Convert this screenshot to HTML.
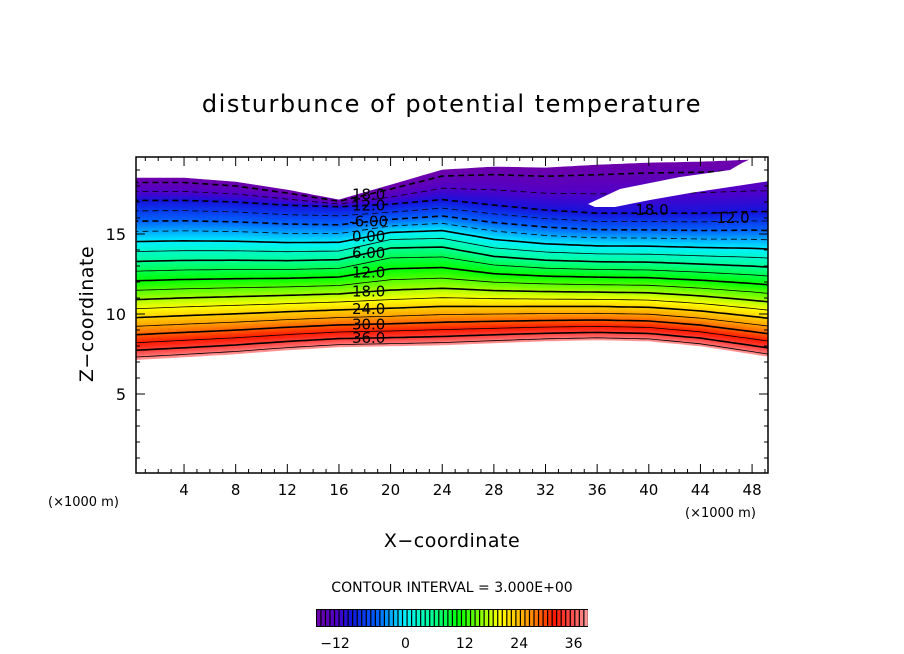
<!DOCTYPE html>
<html><head><meta charset="utf-8">
<style>
body{margin:0;background:#fff;}
svg{display:block;font-family:"DejaVu Sans","Liberation Sans",sans-serif;}
</style></head>
<body>
<svg id="chart" width="904" height="654" viewBox="0 0 904 654" xmlns="http://www.w3.org/2000/svg">
<defs><clipPath id="plotclip"><rect x="136" y="157" width="632" height="316"/></clipPath></defs>
<rect width="904" height="654" fill="#fff"/>
<text x="452" y="112" text-anchor="middle" font-size="24" letter-spacing="1.5">disturbunce of potential temperature</text>
<g id="fills" clip-path="url(#plotclip)"></g>
<g id="lines" clip-path="url(#plotclip)"></g>
<g id="hole" clip-path="url(#plotclip)"></g>
<g id="labels" font-size="15"></g>
<g id="axes"></g>
<text transform="translate(93,314) rotate(-90)" text-anchor="middle" font-size="19" letter-spacing="0.5">Z−coordinate</text>
<text x="452" y="547" text-anchor="middle" font-size="19" letter-spacing="0.5">X−coordinate</text>
<text x="48" y="506" font-size="13">(×1000 m)</text>
<text x="685" y="517" font-size="13">(×1000 m)</text>
<text x="452" y="592" text-anchor="middle" font-size="14">CONTOUR INTERVAL = 3.000E+00</text>
<g id="cbar"></g>
</svg>
<script>
// data
const xs     = [0,4,8,12,16,20,24,28,32,36,40,44,48,50];
const zBot   = [7.13,7.31,7.5,7.75,7.94,8.0,8.06,8.19,8.31,8.38,8.31,8.0,7.5,7.25];
const zMid12 = [17.1,17.1,17.0,16.8,16.7,16.8,17.1,16.8,16.5,16.3,16.3,16.3,16.4,16.4];
const zTop   = [18.5,18.5,18.25,17.75,17.13,18.06,19.0,19.19,19.13,19.31,19.44,19.5,19.63,19.63];
const bump   = [0,0,0,0,0.05,0.7,0.55,0.1,0,0,0,0,0,0];
const lineLevels = [-18,-15,-12,-9,-6,-3,0,3,6,9,12,15,18,21,24,27,30,33,36,39];
const labelTexts = [["18.0",-18],["12.0",-12],["-6.00",-6],["0.00",0],["6.00",6],["12.0",12],["18.0",18],["24.0",24],["30.0",30],["36.0",36]];
const xTicks = [4,8,12,16,20,24,28,32,36,40,44,48];
const yTicks = [5,10,15];
const cbarTicks = [-12,0,12,24,36];

const NS="http://www.w3.org/2000/svg";
const X=x=>132.4+x*12.91, Y=z=>474-z*16;
function interp(arr,x){for(let i=0;i<xs.length-1;i++){if(x<=xs[i+1]){const t=(x-xs[i])/(xs[i+1]-xs[i]);return arr[i]+t*(arr[i+1]-arr[i]);}}return arr[arr.length-1];}
function zLevel(v,x){
  if(v>=-12){const t=Math.pow((40.5-v)/52.5,1.15);const zb=interp(zBot,x),zm=interp(zMid12,x);
    return zb+t*(zm-zb)+interp(bump,x)*Math.exp(-Math.pow((v-5)/11,2));}
  const t=(-12-v)/7.5;const zm=interp(zMid12,x),zt=interp(zTop,x);return zm+t*(zt-zm);
}
const stops=[[-19.5,[110,0,170]],[-15,[80,0,200]],[-12,[20,20,220]],[-6,[0,100,255]],[0,[0,240,255]],[6,[0,255,150]],[12,[0,255,0]],[18,[170,255,0]],[21,[255,255,0]],[27,[255,160,0]],[33,[255,24,0]],[37,[255,80,80]],[40.5,[255,160,160]]];
function cmap(v){for(let i=0;i<stops.length-1;i++){if(v<=stops[i+1][0]){const t=Math.max(0,(v-stops[i][0])/(stops[i+1][0]-stops[i][0]));const a=stops[i][1],b=stops[i+1][1];return `rgb(${a.map((c,k)=>Math.round(c+t*(b[k]-c))).join(',')})`;}}return 'rgb(255,160,160)';}
const fx=[];for(let x=0;x<=50.001;x+=0.5)fx.push(x);
function pts(v){return fx.map(x=>[X(x),Y(zLevel(v,x))]);}
const fills=document.getElementById('fills');
for(let v=40.5;v>-19.5;v-=0.5){
  const a=pts(v),b=pts(v-0.5).reverse();
  const p=document.createElementNS(NS,'polygon');
  p.setAttribute('points',a.concat(b).map(q=>q[0].toFixed(1)+','+q[1].toFixed(1)).join(' '));
  p.setAttribute('fill',cmap(v-0.25));p.setAttribute('stroke',cmap(v-0.25));p.setAttribute('stroke-width','0.6');
  
  
  fills.appendChild(p);
}
const lines=document.getElementById('lines');
lineLevels.forEach(v=>{
  const pl=document.createElementNS(NS,'polyline');
  pl.setAttribute('points',pts(v).map(q=>q[0].toFixed(1)+','+q[1].toFixed(1)).join(' '));
  pl.setAttribute('fill','none');pl.setAttribute('stroke','#000');
  pl.setAttribute('stroke-width',v%6===0?'1.6':'0.8');
  if(v<0)pl.setAttribute('stroke-dasharray','6,4');
  
  
  lines.appendChild(pl);
});
const hole=document.createElementNS(NS,'polygon');
hole.setAttribute('points','588,204 620,189 680,177 730,170 742,163 770,150 770,181 730,187 690,193 650,200 615,207 595,207');
hole.setAttribute('fill','#fff');


document.getElementById('hole').appendChild(hole);
const lab=document.getElementById('labels');
labelTexts.forEach(([t,v])=>{
  const e=document.createElementNS(NS,'text');
  e.setAttribute('x',X(18.3));e.setAttribute('y',Y(zLevel(v,18.3))+5);
  e.setAttribute('text-anchor','middle');e.textContent=t;
  
  
  lab.appendChild(e);
});
[["18.0",652,215],["12.0",733,223]].forEach(([t,x,y])=>{
  const e=document.createElementNS(NS,'text');e.setAttribute('x',x);e.setAttribute('y',y);e.setAttribute('text-anchor','middle');e.textContent=t;
  
  
  lab.appendChild(e);
});
const ax=document.getElementById('axes');
function add(tag,attrs,parent){const e=document.createElementNS(NS,tag);for(const k in attrs)e.setAttribute(k,attrs[k]);(parent||ax).appendChild(e);return e;}
add('rect',{x:136,y:157,width:632,height:316,fill:'none',stroke:'#000','stroke-width':1.5});
for(let x=1;x<=49;x++){const len=x%4===0?9:4;
  add('line',{x1:X(x),x2:X(x),y1:473,y2:473-len,stroke:'#000'});
  add('line',{x1:X(x),x2:X(x),y1:157,y2:157+len,stroke:'#000'});}
for(let z=1;z<=19;z++){const len=z%5===0?9:4;
  add('line',{x1:136,x2:136+len,y1:Y(z),y2:Y(z),stroke:'#000'});
  add('line',{x1:768,x2:768-len,y1:Y(z),y2:Y(z),stroke:'#000'});}
xTicks.forEach(x=>{const t=add('text',{x:X(x),y:495,'text-anchor':'middle','font-size':15});t.textContent=x;
  
  });
yTicks.forEach(z=>{const t=add('text',{x:126,y:Y(z)+6,'text-anchor':'end','font-size':16});t.textContent=z;
  
  });
const cb=document.getElementById('cbar');
const cx0=316,cx1=588,cv0=-19.5,cv1=40.5;
const CX=v=>cx0+(v-cv0)/(cv1-cv0)*(cx1-cx0);
add('rect',{x:cx0,y:609,width:cx1-cx0,height:18,fill:'#000'},cb);
for(let v=cv0;v<cv1;v+=1){
  const r=add('rect',{x:CX(v)+1,y:610,width:(cx1-cx0)/60-1.2,height:16,fill:cmap(v+0.5)},cb);
  
  
}
cbarTicks.forEach(v=>{const t=add('text',{x:CX(v)+(v<0?-15:v===0?1:6),y:648,'text-anchor':'middle','font-size':14},cb);t.textContent=v<0?'−'+(-v):v;
  
  });
</script>
</body></html>
